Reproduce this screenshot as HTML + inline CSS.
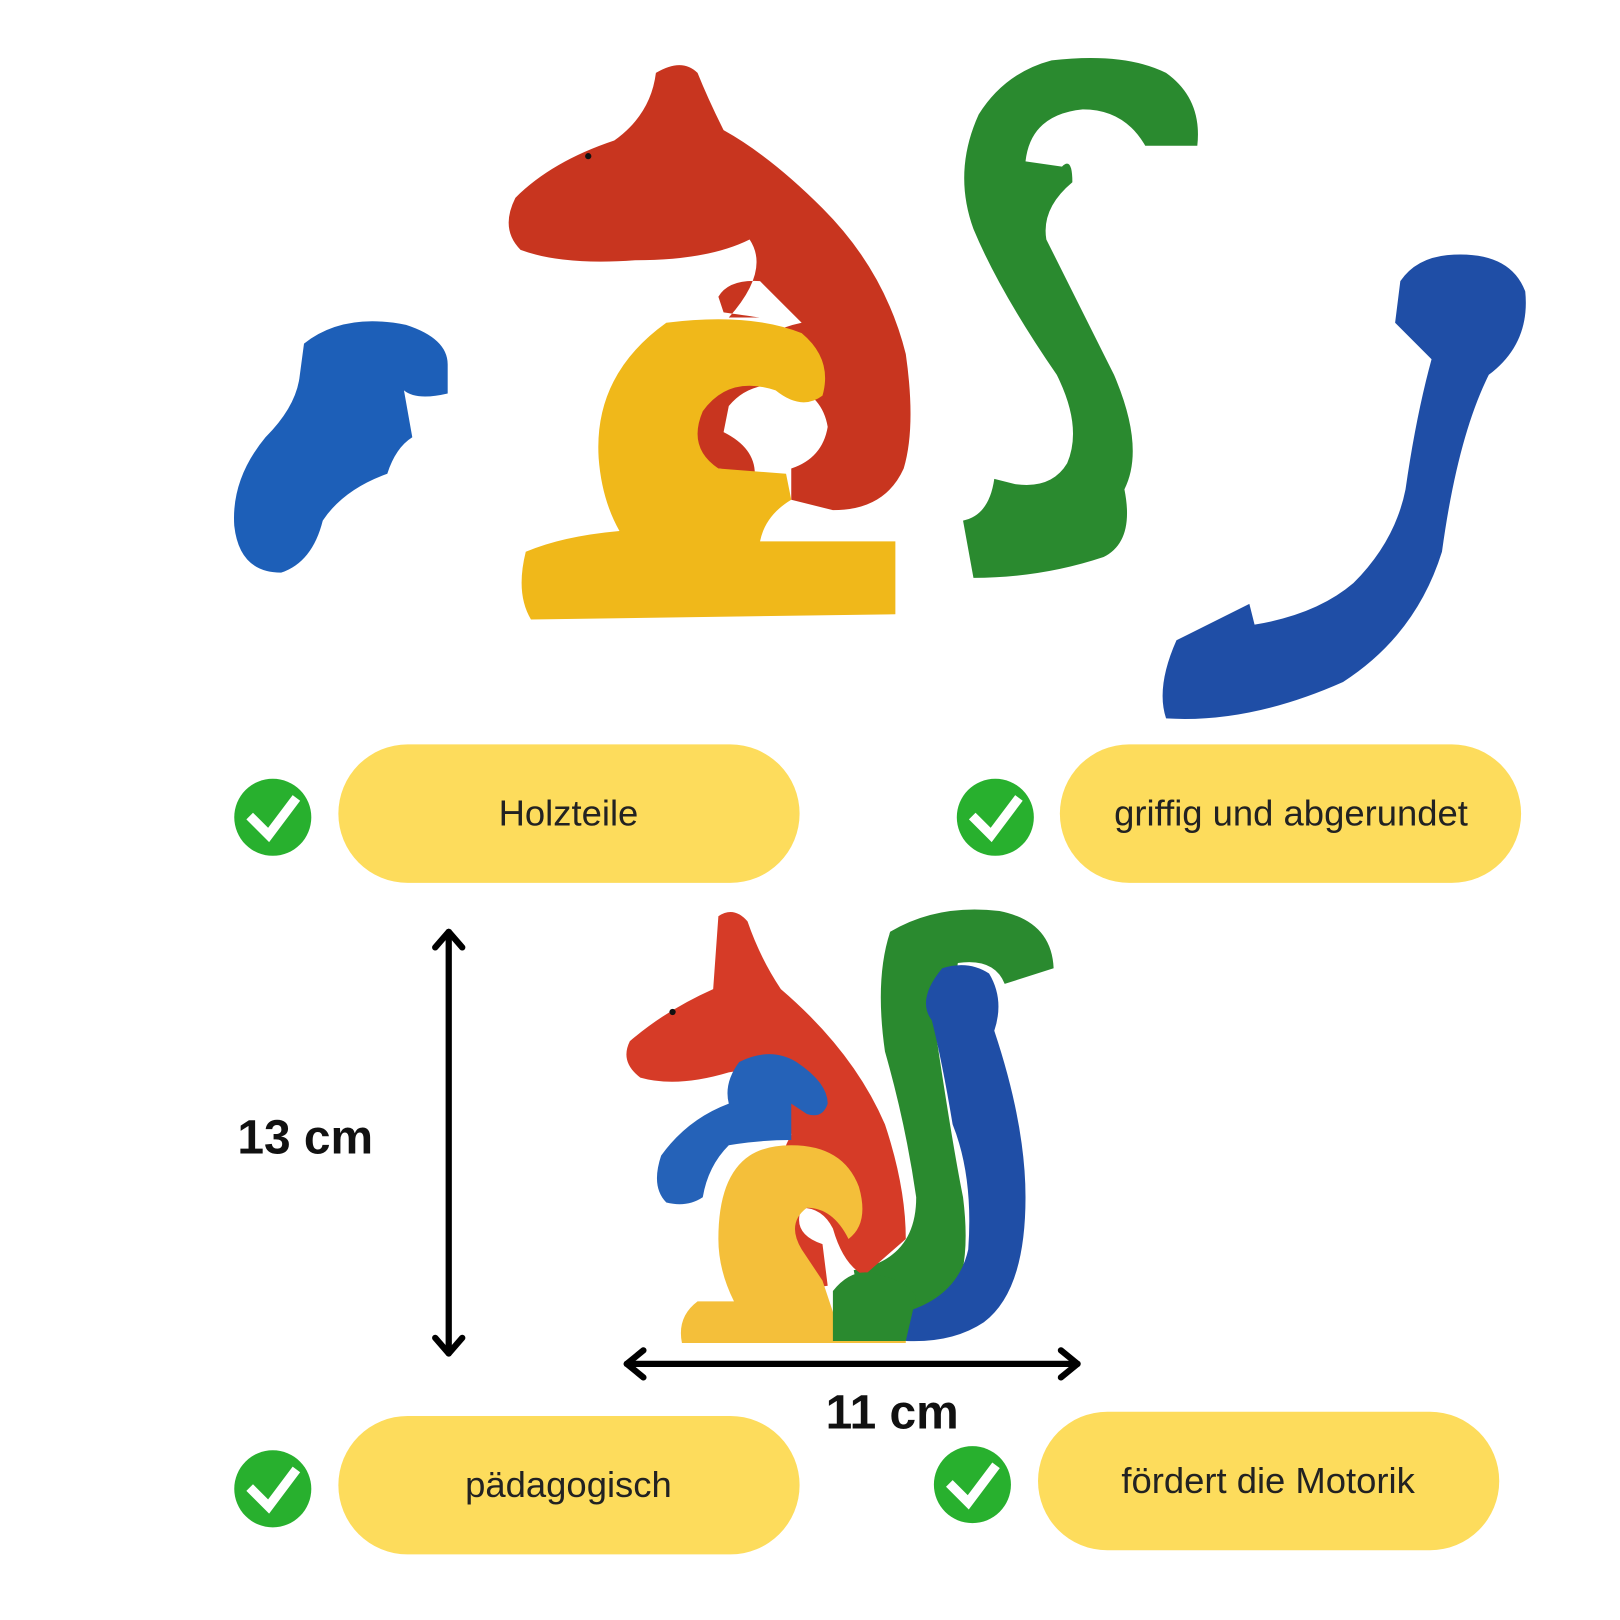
<!DOCTYPE html>
<html><head><meta charset="utf-8"><style>html,body{margin:0;padding:0;background:#fff}svg{display:block}</style></head>
<body>
<svg width="1620" height="1620" viewBox="0 0 1556 1556" xmlns="http://www.w3.org/2000/svg">
<rect width="1556" height="1556" fill="#fff"/>
<!-- top pieces -->
<!-- blue small -->
<path d="M292 330 Q330 300 390 312 Q430 325 430 350 L430 378 Q400 385 388 375 L396 420 Q380 430 372 455 Q330 470 310 500 Q300 540 270 550 Q230 550 225 505 Q222 460 255 420 Q285 390 288 360 Z" fill="#1d5fb8"/>
<!-- red top -->
<path d="M630 70 Q655 55 670 70 Q680 95 695 125 Q740 150 790 200 Q850 260 870 340 Q880 410 868 450 Q850 490 800 490 L760 480 L760 450 Q790 440 795 410 Q790 380 760 370 Q720 365 700 390 L695 415 Q725 430 725 455 L690 450 L660 440 Q660 400 680 370 Q720 320 770 310 L760 300 Q740 280 730 270 Q700 268 690 285 L695 300 Q730 305 730 305 L700 305 Q740 260 720 230 Q680 250 610 250 Q540 255 500 240 Q480 220 495 190 Q530 155 590 135 Q625 110 630 70 Z" fill="#c8351f"/>
<!-- yellow top -->
<path d="M640 310 Q720 300 770 320 Q800 345 790 380 Q770 395 745 375 Q700 360 675 395 Q660 430 690 450 L755 455 L760 480 Q735 495 730 520 L860 520 L860 590 L510 595 Q495 570 505 530 Q540 515 595 510 Q578 480 575 440 Q570 360 640 310 Z" fill="#f0b81a"/>
<!-- green S -->
<path d="M1010 58 Q1080 50 1120 70 Q1155 95 1150 140 L1100 140 Q1080 105 1040 105 Q990 110 985 155 L1020 160 Q1030 150 1030 175 Q1000 200 1005 230 Q1040 300 1070 360 Q1100 430 1080 470 Q1090 520 1060 535 Q1000 555 935 555 L925 500 Q950 495 955 460 L975 465 Q1010 470 1025 445 Q1040 410 1015 360 Q960 280 935 220 Q915 165 940 110 Q965 70 1010 58 Z" fill="#2a8a2f"/>
<!-- blue long -->
<path d="M1390 245 Q1450 240 1465 280 Q1470 330 1430 360 Q1400 420 1385 530 Q1360 610 1290 655 Q1200 695 1120 690 Q1110 660 1130 615 L1200 580 L1205 600 Q1265 590 1300 560 Q1340 520 1350 470 Q1360 400 1375 345 L1340 310 L1345 270 Q1360 248 1390 245 Z" fill="#1f4ea6"/>
<!-- pills -->
<g fill="#fddc5c">
<rect x="325" y="715" width="443" height="133" rx="66.5"/>
<rect x="1018" y="715" width="443" height="133" rx="66.5"/>
<rect x="325" y="1360" width="443" height="133" rx="66.5"/>
<rect x="997" y="1356" width="443" height="133" rx="66.5"/>
</g>
<g font-family="Liberation Sans, sans-serif" font-size="35" fill="#222" text-anchor="middle">
<text x="546" y="793">Holzteile</text>
<text x="1240" y="793">griffig und abgerundet</text>
<text x="546" y="1438">pädagogisch</text>
<text x="1218" y="1434">fördert die Motorik</text>
</g>
<!-- checks -->
<g>
<circle cx="262" cy="785" r="37" fill="#28b02e"/>
<circle cx="956" cy="785" r="37" fill="#28b02e"/>
<circle cx="262" cy="1430" r="37" fill="#28b02e"/>
<circle cx="934" cy="1426" r="37" fill="#28b02e"/>
</g>
<g fill="none" stroke="#fff" stroke-width="9" stroke-linecap="square">
<path d="M243 787 L258 802 L282 770"/>
<path d="M937 787 L952 802 L976 770"/>
<path d="M243 1432 L258 1447 L282 1415"/>
<path d="M915 1428 L930 1443 L954 1411"/>
</g>
<!-- arrows -->
<g stroke="#000" stroke-width="6" fill="none" stroke-linecap="round" stroke-linejoin="round">
<path d="M431 895 L431 1300"/>
<path d="M418 910 L431 895 L444 910"/>
<path d="M418 1285 L431 1300 L444 1285"/>
<path d="M602 1310 L1035 1310"/>
<path d="M618 1297 L602 1310 L618 1323"/>
<path d="M1019 1297 L1035 1310 L1019 1323"/>
</g>
<g font-family="Liberation Sans, sans-serif" font-weight="bold" font-size="46" fill="#111">
<text x="228" y="1108">13 cm</text>
<text x="793" y="1372">11 cm</text>
</g>
<!-- assembled squirrel -->
<path d="M855 895 Q900 868 960 875 Q1010 885 1012 930 L965 945 Q955 920 920 925 L915 960 L900 1000 Q915 1100 925 1150 Q935 1230 905 1260 L830 1275 L820 1220 Q880 1210 880 1150 Q870 1080 850 1010 Q840 940 855 895 Z" fill="#2a8a2f"/>
<path d="M905 930 Q930 922 950 935 Q965 960 955 990 Q985 1080 985 1150 Q985 1240 945 1270 Q915 1290 870 1288 L870 1260 Q920 1245 930 1200 Q935 1130 915 1080 Q905 1020 895 980 Q880 960 905 930 Z" fill="#1f4ea6"/>
<path d="M690 880 Q705 870 718 885 Q730 920 750 950 Q820 1010 850 1080 Q870 1140 870 1190 L830 1225 Q810 1215 800 1180 Q790 1160 770 1160 Q760 1185 790 1195 L795 1235 L760 1240 Q740 1200 750 1150 Q745 1115 760 1090 L755 1060 L780 1055 Q780 1040 760 1020 L700 1030 Q650 1045 615 1035 Q595 1020 605 1000 Q640 970 685 950 Z" fill="#d63b27"/>
<path d="M710 1020 Q740 1005 765 1020 Q795 1040 795 1060 Q790 1075 775 1070 L760 1060 L760 1095 Q730 1095 700 1100 Q680 1120 675 1150 Q660 1160 640 1155 Q625 1140 635 1110 Q660 1075 700 1060 Q695 1040 710 1020 Z" fill="#2562b8"/>
<path d="M760 1100 Q810 1100 825 1140 Q835 1175 815 1190 Q800 1160 775 1160 Q755 1175 770 1200 L790 1230 L800 1260 L870 1260 L870 1290 L655 1290 Q650 1265 670 1250 L705 1250 Q690 1220 690 1190 Q690 1130 720 1110 Q735 1100 760 1100 Z" fill="#f4bf3a"/>
<path d="M800 1240 Q820 1215 845 1225 Q870 1230 880 1245 L870 1288 L800 1288 Z" fill="#2a8a2f"/>
<circle cx="646" cy="972" r="3" fill="#111"/>
<circle cx="565" cy="150" r="3" fill="#111"/>
</svg>
</body></html>
